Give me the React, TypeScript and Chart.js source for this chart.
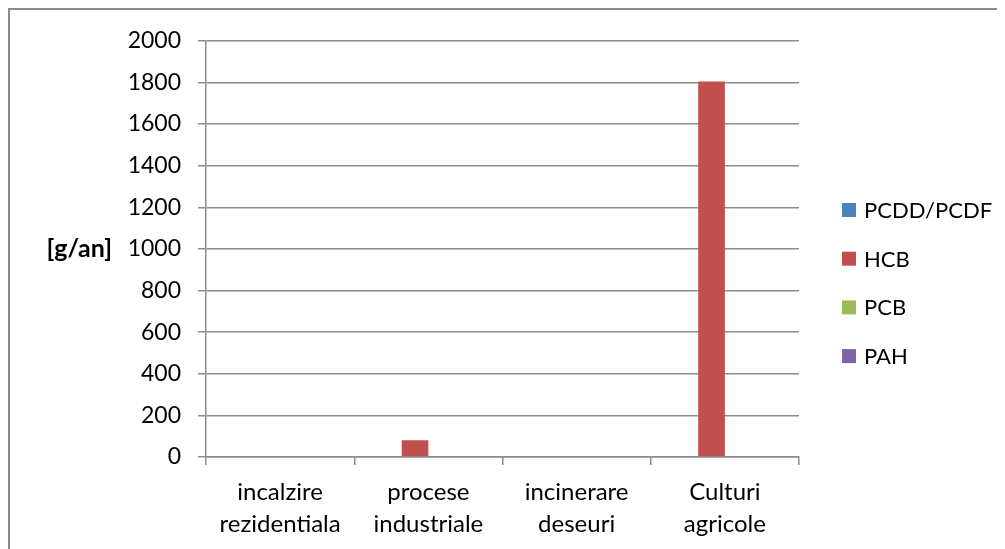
import React, { useEffect, useRef } from "react";
import { Chart, registerables } from "chart.js";

Chart.register(...registerables);

const categories: string[][] = [
  ["incalzire", "rezidentiala"],
  ["procese", "industriale"],
  ["incinerare", "deseuri"],
  ["Culturi", "agricole"],
];
const seriesNames = ["PCDD/PCDF", "HCB", "PCB", "PAH"];
const seriesColors = ["#4F81BD", "#C0504D", "#9BBB59", "#8064A2"];
const pcddValues = [0, 0, 0, 0];
const hcbValues = [0, 80, 0, 1805];
const pcbValues = [0, 0, 0, 0];
const pahValues = [0, 0, 0, 0];
const yTicks = { min: 0, max: 2000, step: 200 };
const yTitle = "[g/an]";

const FONT = "Lato, 'Open Sans', sans-serif";
const GRID = "#8c8c8c";

const sideTitlePlugin = {
  id: "sideTitle",
  afterDraw(chart: any) {
    const { ctx, chartArea } = chart;
    ctx.save();
    ctx.font = `bold 25px ${FONT}`;
    ctx.fillStyle = "#000";
    ctx.textAlign = "right";
    ctx.textBaseline = "middle";
    ctx.fillText(yTitle, chartArea.left - 94, (chartArea.top + chartArea.bottom) / 2 + 0.5);
    ctx.restore();
  },
};

const customLegendPlugin = {
  id: "customLegend",
  afterDraw(chart: any) {
    const { ctx, chartArea } = chart;
    const ds = chart.data.datasets;
    const x0 = chartArea.right + 43;
    const spacing = 48.7;
    const firstY = 200;
    ctx.save();
    ctx.font = `22px ${FONT}`;
    ctx.textAlign = "left";
    ctx.textBaseline = "middle";
    ds.forEach((d: any, i: number) => {
      const cy = firstY + i * spacing;
      ctx.fillStyle = d.backgroundColor;
      ctx.fillRect(x0, cy - 7, 14, 14);
      ctx.fillStyle = "#000";
      ctx.fillText(d.label, x0 + 22, cy + 1);
    });
    ctx.restore();
  },
};

export default function App() {
  const ref = useRef<HTMLCanvasElement | null>(null);

  useEffect(() => {
    if (!ref.current) return;
    const valuesList = [pcddValues, hcbValues, pcbValues, pahValues];
    const chart = new Chart(ref.current, {
      type: "bar",
      data: {
        labels: categories,
        datasets: seriesNames.map((name, i) => ({
          label: name,
          data: valuesList[i],
          backgroundColor: seriesColors[i],
          borderWidth: 0,
          categoryPercentage: 0.72,
          barPercentage: 1,
        })),
      },
      options: {
        animation: false,
        responsive: false,
        maintainAspectRatio: false,
        layout: { padding: { left: 0, right: 206, top: 29.5, bottom: 0 } },
        plugins: {
          legend: { display: false },
          tooltip: { enabled: false },
          title: { display: false },
        },
        scales: {
          x: {
            grid: {
              display: true,
              drawOnChartArea: false,
              drawTicks: true,
              tickLength: 8,
              offset: true,
              color: GRID,
              lineWidth: 1.5,
            },
            border: { display: true, color: GRID, width: 1.5 },
            ticks: {
              color: "#000",
              font: { family: FONT, size: 24, lineHeight: 1.3 },
              padding: 12,
              maxRotation: 0,
              autoSkip: false,
            },
            afterFit: (scale: any) => {
              scale.height = 92;
            },
          },
          y: {
            min: yTicks.min,
            max: yTicks.max,
            grid: {
              color: GRID,
              lineWidth: 1.5,
              drawTicks: true,
              tickLength: 8,
            },
            border: { display: true, color: GRID, width: 1.5 },
            ticks: {
              stepSize: yTicks.step,
              color: "#000",
              font: { family: FONT, size: 23 },
              padding: 17,
              callback: (v: any) => String(v),
            },
            afterFit: (scale: any) => {
              scale.width = 196;
            },
          },
        },
      },
      plugins: [sideTitlePlugin, customLegendPlugin],
    });
    return () => chart.destroy();
  }, []);

  return (
    <div
      style={{
        width: 997,
        height: 541,
        boxSizing: "border-box",
        borderTop: "2px solid #8c8c8c",
        borderLeft: "2px solid #8c8c8c",
        overflow: "hidden",
        background: "#fff",
      }}
    >
      <canvas ref={ref} width={995} height={539} style={{ display: "block" }} />
    </div>
  );
}
